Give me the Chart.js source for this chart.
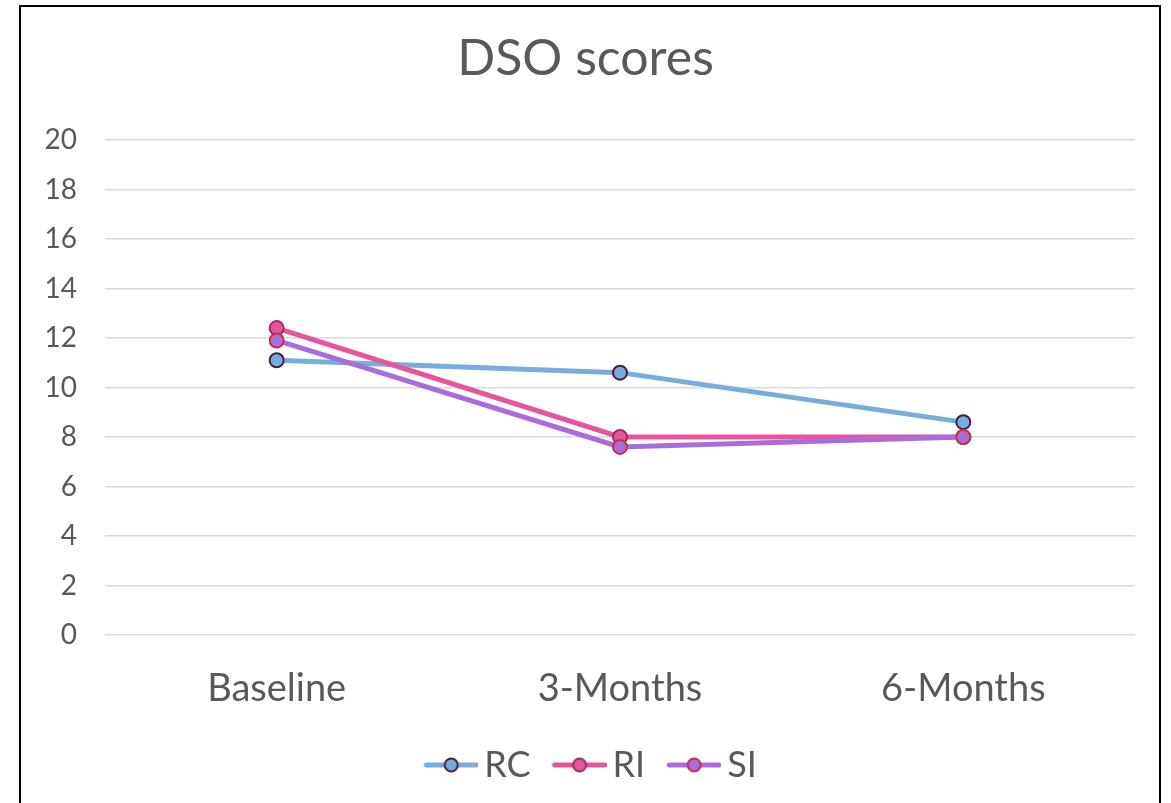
<!DOCTYPE html>
<html>
<head>
<meta charset="utf-8">
<script src="https://cdn.jsdelivr.net/npm/chart.js@4/dist/chart.umd.min.js"></script>
<style>
  html, body { margin: 0; padding: 0; background: #ffffff; }
  #wrap { position: relative; width: 1171px; height: 803px; overflow: hidden; }
  #frame { position: absolute; left: 19px; top: 5px; width: 1142px; height: 830px;
           border: 2px solid #000; box-sizing: border-box; }
  #chart { position: absolute; left: 0; top: 0; }
</style>
</head>
<body>
<div id="wrap">
  <div id="frame"></div>
  <canvas id="chart" width="1171" height="803"></canvas>
</div>
<script>
// DSO scores at each follow-up point
const categories = ['Baseline', '3-Months', '6-Months'];
const seriesNames = ['RC', 'RI', 'SI'];
const rcValues = [11.1, 10.6, 8.6];
const riValues = [12.4, 8.0, 8.0];
const siValues = [11.9, 7.6, 8.0];
const yTicks = [0, 2, 4, 6, 8, 10, 12, 14, 16, 18, 20];

const FONT = 'Lato, "Open Sans", sans-serif';
const TEXT = '#595959';

const styles = [
  { line: '#77acde', fill: '#77acde', edge: '#4e1c3e' },
  { line: '#e6559c', fill: '#e6559c', edge: '#9e2e5e' },
  { line: '#a96ddb', fill: '#a96ddb', edge: '#c4304c' }
];

// Legend swatch: a short line with a marker in the middle
function makeSwatch(s) {
  const c = document.createElement('canvas');
  c.width = 76; c.height = 18;
  const g = c.getContext('2d');
  g.lineCap = 'round';
  g.strokeStyle = s.line;
  g.lineWidth = 5;
  g.beginPath(); g.moveTo(24, 9); g.lineTo(74, 9); g.stroke();
  g.beginPath(); g.arc(49, 9, 6.5, 0, Math.PI * 2);
  g.fillStyle = s.fill; g.fill();
  g.lineWidth = 2; g.strokeStyle = s.edge; g.stroke();
  return c;
}

const allValues = [rcValues, riValues, siValues];
const datasets = seriesNames.map((name, i) => ({
  label: name,
  data: allValues[i],
  borderColor: styles[i].line,
  backgroundColor: styles[i].fill,
  borderWidth: 5,
  tension: 0,
  pointRadius: 7,
  pointHoverRadius: 7,
  pointBorderWidth: 2,
  pointBackgroundColor: styles[i].fill,
  pointBorderColor: styles[i].edge,
  order: seriesNames.length - 1 - i
}));

new Chart(document.getElementById('chart'), {
  type: 'line',
  data: { labels: categories, datasets },
  options: {
    responsive: false,
    animation: false,
    layout: { padding: { left: 36, right: 36, top: 0, bottom: 10 } },
    plugins: {
      title: {
        display: true,
        text: 'DSO scores',
        color: TEXT,
        font: { family: FONT, size: 50, weight: 'normal' },
        padding: { top: 29, bottom: 51 }
      },
      legend: {
        position: 'bottom',
        labels: {
          color: TEXT,
          font: { family: FONT, size: 36 },
          usePointStyle: true,
          pointStyleWidth: 52,
          padding: 12,
          generateLabels: (chart) => chart.data.datasets.map((ds, i) => ({
            text: ds.label,
            pointStyle: makeSwatch(styles[i]),
            fillStyle: styles[i].fill,
            strokeStyle: styles[i].edge,
            lineWidth: 0,
            fontColor: TEXT,
            hidden: false,
            datasetIndex: i
          }))
        }
      },
      tooltip: { enabled: false }
    },
    scales: {
      x: {
        offset: true,
        grid: { display: false },
        border: { display: false },
        ticks: { color: TEXT, font: { family: FONT, size: 38 }, padding: 23 },
        afterFit: (s) => { s.height = 100; }
      },
      y: {
        min: 0,
        max: 20,
        afterBuildTicks: (s) => { s.ticks = yTicks.map(v => ({ value: v })); },
        grid: { color: '#d9d9d9', lineWidth: 1.5, drawTicks: false },
        border: { display: false },
        ticks: { color: TEXT, font: { family: FONT, size: 28 }, padding: 28 },
        afterFit: (s) => { s.width = 69; }
      }
    }
  }
});
</script>
</body>
</html>
